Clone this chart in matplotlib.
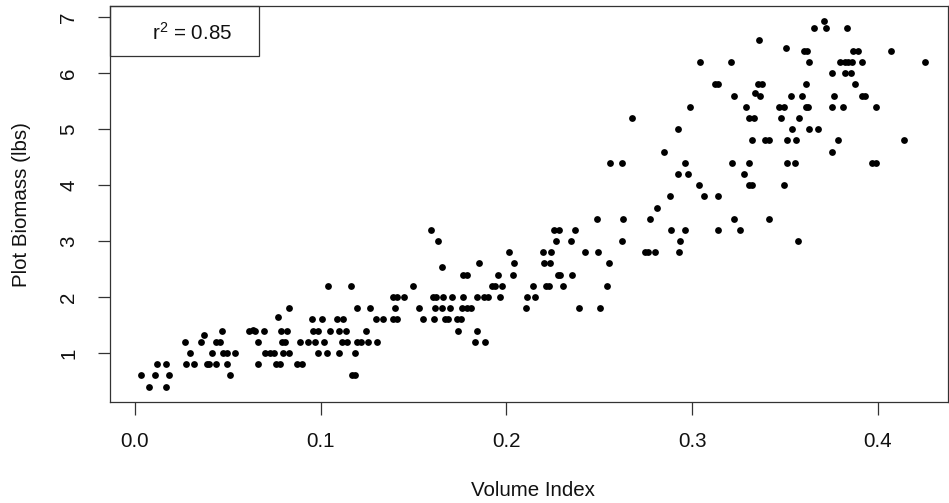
import matplotlib
matplotlib.use("Agg")
import matplotlib.pyplot as plt
from matplotlib.patches import Rectangle

plt.rcParams['font.family'] = ['Liberation Sans', 'DejaVu Sans']
plt.rcParams['mathtext.fontset'] = 'custom'
plt.rcParams['mathtext.rm'] = 'Liberation Sans'
plt.rcParams['mathtext.it'] = 'Liberation Sans:italic'
plt.rcParams['mathtext.default'] = 'regular'

# Volume Index (x) and Plot Biomass in lbs (y)
volume_index = [
    0.003, 0.0075, 0.0106, 0.0117, 0.0167, 0.0185, 0.0169, 0.0271, 0.0296, 0.0275,
    0.0316, 0.0354, 0.0372, 0.0388, 0.0398, 0.0415, 0.0438, 0.0458, 0.0438, 0.047,
    0.0476, 0.0497, 0.0494, 0.0513, 0.0539, 0.0616, 0.0634, 0.0645, 0.0664, 0.0664,
    0.1039, 0.1163, 0.0831, 0.1197, 0.1265, 0.0770, 0.0952, 0.1009, 0.1089, 0.1122,
    0.1296, 0.1337, 0.0695, 0.0786, 0.0817, 0.0960, 0.0984, 0.1050, 0.1099, 0.1135,
    0.1246, 0.0793, 0.0808, 0.0887, 0.0933, 0.0969, 0.1018, 0.1115, 0.1140, 0.1197,
    0.1215, 0.1256, 0.1302, 0.0700, 0.0727, 0.0749, 0.0795, 0.0831, 0.0985, 0.1036,
    0.1100, 0.1185, 0.0759, 0.0781, 0.0871, 0.0898, 0.1167, 0.1185,
    0.1596, 0.1632, 0.2014, 0.2041, 0.1852, 0.1653, 0.1768, 0.1789, 0.1956, 0.2034,
    0.1499, 0.1921, 0.1939, 0.1975, 0.1391, 0.1409, 0.1449, 0.1603, 0.1621, 0.1660,
    0.1705, 0.1768, 0.1840, 0.1881, 0.1899, 0.1966, 0.1400, 0.1531, 0.1615, 0.1652,
    0.1696, 0.1759, 0.1789, 0.1808, 0.1391, 0.1412, 0.1553, 0.1610, 0.1669, 0.1687,
    0.1736, 0.1754, 0.1739, 0.1843, 0.1829, 0.1886,
    0.2486, 0.2630, 0.2772, 0.2258, 0.2282, 0.2371, 0.2267, 0.2348, 0.2621, 0.2197,
    0.2240, 0.2422, 0.2495, 0.2746, 0.2761, 0.2204, 0.2235, 0.2553, 0.2276, 0.2289,
    0.2353, 0.2142, 0.2212, 0.2228, 0.2305, 0.2540, 0.2109, 0.2154, 0.2106, 0.2393,
    0.2503,
    0.3042, 0.3211, 0.3123, 0.3141, 0.3227, 0.2990, 0.2678, 0.2924, 0.2849, 0.2558,
    0.2621, 0.2963, 0.3216, 0.2926, 0.2978, 0.3039, 0.2881, 0.3066, 0.3141, 0.2811,
    0.3224, 0.2886, 0.2963, 0.3141, 0.3258, 0.2936, 0.2799, 0.2929,
    0.3712, 0.3658, 0.3723, 0.3362, 0.3507, 0.3604, 0.3619, 0.3631, 0.3755, 0.3356,
    0.3375, 0.3615, 0.3339, 0.3366, 0.3533, 0.3590, 0.3766, 0.3290, 0.3466, 0.3495,
    0.3615, 0.3626, 0.3752, 0.3308, 0.3333, 0.3479, 0.3576, 0.3536, 0.3628, 0.3680,
    0.3323, 0.3394, 0.3416, 0.3513, 0.3561, 0.3787, 0.3755, 0.3306, 0.3509, 0.3554,
    0.3278, 0.3308, 0.3323, 0.3495, 0.3416, 0.3572,
    0.3836, 0.3868, 0.3892, 0.4069, 0.3796, 0.3823, 0.3841, 0.3863, 0.3913, 0.4253,
    0.3823, 0.3854, 0.3877, 0.3913, 0.3931, 0.3814, 0.3992, 0.4141, 0.3970, 0.3988,
]

plot_biomass = [
    0.6, 0.4, 0.6, 0.8, 0.8, 0.6, 0.4, 1.2, 1.0, 0.8,
    0.8, 1.2, 1.33, 0.8, 0.8, 1.0, 1.2, 1.2, 0.8, 1.4,
    1.0, 1.0, 0.8, 0.6, 1.0, 1.4, 1.42, 1.4, 1.2, 0.8,
    2.2, 2.2, 1.8, 1.8, 1.8, 1.64, 1.6, 1.6, 1.6, 1.6,
    1.6, 1.6, 1.4, 1.4, 1.4, 1.4, 1.4, 1.4, 1.4, 1.4,
    1.4, 1.2, 1.2, 1.2, 1.2, 1.2, 1.2, 1.2, 1.2, 1.2,
    1.2, 1.2, 1.2, 1.0, 1.0, 1.0, 1.0, 1.0, 1.0, 1.0,
    1.0, 1.0, 0.8, 0.8, 0.8, 0.8, 0.6, 0.6,
    3.2, 3.0, 2.8, 2.6, 2.6, 2.53, 2.4, 2.4, 2.4, 2.4,
    2.2, 2.2, 2.2, 2.2, 2.0, 2.0, 2.0, 2.0, 2.0, 2.0,
    2.0, 2.0, 2.0, 2.0, 2.0, 2.0, 1.8, 1.8, 1.8, 1.8,
    1.8, 1.8, 1.8, 1.8, 1.6, 1.6, 1.6, 1.6, 1.6, 1.6,
    1.6, 1.6, 1.4, 1.4, 1.2, 1.2,
    3.4, 3.4, 3.4, 3.2, 3.2, 3.2, 3.0, 3.0, 3.0, 2.8,
    2.8, 2.8, 2.8, 2.8, 2.8, 2.6, 2.6, 2.6, 2.4, 2.4,
    2.4, 2.2, 2.2, 2.2, 2.2, 2.2, 2.0, 2.0, 1.8, 1.8,
    1.8,
    6.2, 6.2, 5.8, 5.8, 5.6, 5.4, 5.2, 5.0, 4.6, 4.4,
    4.4, 4.4, 4.4, 4.2, 4.2, 4.0, 3.8, 3.8, 3.8, 3.6,
    3.4, 3.2, 3.2, 3.2, 3.2, 3.0, 2.8, 2.8,
    6.93, 6.8, 6.8, 6.6, 6.45, 6.4, 6.4, 6.2, 6.0, 5.8,
    5.8, 5.8, 5.64, 5.6, 5.6, 5.6, 5.6, 5.4, 5.4, 5.4,
    5.4, 5.4, 5.4, 5.2, 5.2, 5.2, 5.2, 5.0, 5.0, 5.0,
    4.8, 4.8, 4.8, 4.8, 4.8, 4.8, 4.6, 4.4, 4.4, 4.4,
    4.2, 4.0, 4.0, 4.0, 3.4, 3.0,
    6.8, 6.4, 6.4, 6.4, 6.2, 6.2, 6.2, 6.2, 6.2, 6.2,
    6.0, 6.0, 5.8, 5.6, 5.6, 5.4, 5.4, 4.8, 4.4, 4.4,
]

x_ticks = [0.0, 0.1, 0.2, 0.3, 0.4]
x_tick_labels = ["0.0", "0.1", "0.2", "0.3", "0.4"]
y_ticks = [1, 2, 3, 4, 5, 6, 7]
y_tick_labels = ["1", "2", "3", "4", "5", "6", "7"]
r2_text = r"r$^{2}$ = 0.85"

W, H = 949, 503
fig = plt.figure(figsize=(W / 100, H / 100), dpi=100)
L, R, T, B = 110, 948, 6, 401.7
ax = fig.add_axes([L / W, 1 - B / H, (R - L) / W, (B - T) / H])

ax.plot(volume_index, plot_biomass, 'o', color='black', ms=4.9, mew=0, linestyle='none')

ax.set_xlim(-0.01346, 0.4378)
ax.set_ylim(0.130, 7.202)

ax.set_xticks(x_ticks)
ax.set_xticklabels(x_tick_labels)
ax.set_yticks(y_ticks)
ax.set_yticklabels(y_tick_labels, rotation=90, va='center')
ax.tick_params(axis='both', direction='out', length=9, width=0.9, color='#333333',
               labelsize=14.8, labelcolor='#111111')
ax.tick_params(axis='x', pad=13)
ax.tick_params(axis='y', pad=14)
for sp in ax.spines.values():
    sp.set_linewidth(0.9)
    sp.set_color('#333333')

# legend-style box
box = Rectangle((0, 1 - (56 - T) / (B - T)), (259 - L) / (R - L), (56 - T) / (B - T),
                transform=ax.transAxes, fill=False, edgecolor='#333333', linewidth=0.9,
                clip_on=False)
ax.add_patch(box)
ax.text((192 - L) / (R - L), 1 - (33 - T) / (B - T), r2_text, transform=ax.transAxes,
        ha='center', va='center', fontsize=14.8, color='#111111')

fig.text(533 / W, 1 - 490 / H, "Volume Index", ha='center', va='center',
         fontsize=14.8, color='#111111')
fig.text(22 / W, 1 - 205 / H, "Plot Biomass (lbs)", ha='center', va='center',
         rotation=90, fontsize=14.8, color='#111111')

fig.savefig("out.png", dpi=100)
